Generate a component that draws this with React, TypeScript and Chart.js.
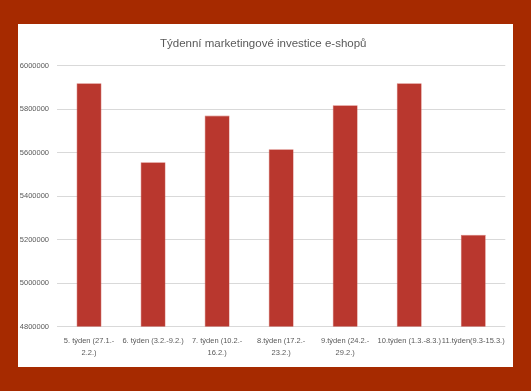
import { useEffect, useRef } from "react";
import { Chart, registerables } from "chart.js";

Chart.register(...registerables);

const TITLE = "Týdenní marketingové investice e-shopů";

const categories: string[][] = [
  ["5. týden (27.1.-", "2.2.)"],
  ["6. týden (3.2.-9.2.)"],
  ["7. týden (10.2.-", "16.2.)"],
  ["8.týden (17.2.-", "23.2.)"],
  ["9.týden (24.2.-", "29.2.)"],
  ["10.týden (1.3.-8.3.)"],
  ["11.týden(9.3-15.3.)"],
];

const values: number[] = [5920000, 5556000, 5771000, 5616000, 5818000, 5920000, 5222000];

const yMin = 4800000;
const yMax = 6000000;
const yStep = 200000;

const FONT = "'Liberation Sans', Arial, sans-serif";
const TEXT = "#595959";

export default function App() {
  const ref = useRef<HTMLCanvasElement>(null);

  useEffect(() => {
    const chart = new Chart(ref.current!, {
      type: "bar",
      data: {
        labels: categories,
        datasets: [
          {
            data: values,
            backgroundColor: "#b9372e",
            borderColor: "#d5706a",
            borderWidth: 0.6,
            categoryPercentage: 1,
            barPercentage: 0.39,
          },
        ],
      },
      options: {
        responsive: false,
        animation: false,
        layout: { padding: { left: 0, right: 4.5, top: 0, bottom: 8 } },
        plugins: {
          legend: { display: false },
          tooltip: { enabled: false },
          title: {
            display: true,
            text: TITLE,
            color: TEXT,
            font: { family: FONT, size: 11.5, weight: "normal", lineHeight: 1.2 },
            padding: { top: 13, bottom: 15 },
          },
        },
        scales: {
          x: {
            grid: { display: false, drawTicks: false },
            border: { display: false },
            ticks: {
              color: TEXT,
              font: { family: FONT, size: 7.5, lineHeight: 1.64 },
              padding: 8,
              maxRotation: 0,
              minRotation: 0,
              autoSkip: false,
            },
            afterFit: (scale: any) => {
              scale.height = 32.5;
            },
          },
          y: {
            min: yMin,
            max: yMax,
            grid: { color: "#d9d9d9", lineWidth: 1, drawTicks: false },
            border: { display: false },
            ticks: {
              stepSize: yStep,
              color: TEXT,
              font: { family: FONT, size: 7.5 },
              padding: 8,
              callback: (v: any) => String(v),
            },
            afterFit: (scale: any) => {
              scale.width = 39;
            },
          },
        },
      },
    });
    return () => chart.destroy();
  }, []);

  return (
    <div
      style={{
        position: "fixed",
        left: 0,
        top: 0,
        width: 531,
        height: 391,
        background: "#a62a00",
      }}
    >
      <div
        style={{
          position: "absolute",
          left: 18,
          top: 24,
          width: 495,
          height: 343,
          background: "#ffffff",
        }}
      >
        <canvas ref={ref} width={495} height={343} style={{ display: "block" }} />
      </div>
    </div>
  );
}
